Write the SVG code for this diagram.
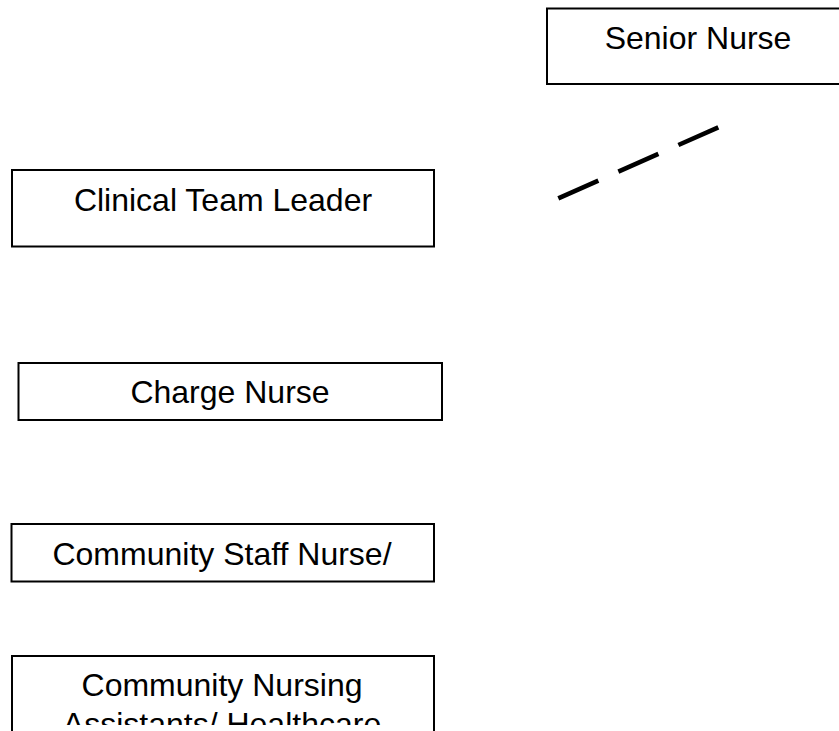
<svg xmlns="http://www.w3.org/2000/svg" width="839" height="731" viewBox="0 0 839 731">
  <style>
    .box { fill: #ffffff; stroke: #000000; stroke-width: 2; }
    .label { font-family: "Liberation Sans", Arial, sans-serif; font-size: 32px; fill: #000000; text-anchor: middle; }
    .link { fill: none; stroke: #000000; stroke-width: 4.6; stroke-dasharray: 43.8 21.9; stroke-linecap: butt; }
  </style>
  <defs>
    <clipPath id="assistantsClip">
      <rect x="12" y="656" width="422" height="69"/>
    </clipPath>
  </defs>
  <rect width="839" height="731" fill="#ffffff"/>

  <g id="connectors">
    <line class="link" x1="558.3" y1="198.3" x2="718.3" y2="127.3"/>
  </g>

  <g id="senior-nurse">
    <rect class="box" x="547" y="8.5" width="302" height="75.5"/>
    <text class="label" x="698" y="49">Senior Nurse</text>
  </g>

  <g id="clinical-team-leader">
    <rect class="box" x="12" y="170" width="422" height="76.5"/>
    <text class="label" x="223" y="211">Clinical Team Leader</text>
  </g>

  <g id="charge-nurse">
    <rect class="box" x="18.5" y="363" width="423.5" height="57"/>
    <text class="label" x="230" y="403">Charge Nurse</text>
  </g>

  <g id="community-staff-nurse">
    <rect class="box" x="11.5" y="524" width="422.5" height="57.5"/>
    <text class="label" x="222" y="565">Community Staff Nurse/</text>
  </g>

  <g id="community-nursing-assistants">
    <rect class="box" x="12" y="656" width="422" height="90"/>
    <g clip-path="url(#assistantsClip)">
      <text class="label" x="222" y="696">Community Nursing</text>
      <text class="label" x="222" y="735">Assistants/ Healthcare</text>
    </g>
  </g>
</svg>
